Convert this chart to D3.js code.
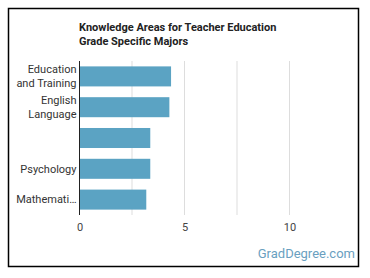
<!DOCTYPE html>
<html><head><meta charset="utf-8">
<script src="https://cdn.jsdelivr.net/npm/d3@7"></script>
<style>body{margin:0;background:#fff;}svg{display:block;font-family:Roboto,"Noto Sans",sans-serif;}</style>
</head><body><svg id="c" width="370" height="278"></svg>
<script>
const titleLines = ["Knowledge Areas for Teacher Education", "Grade Specific Majors"];
const categories = [["Education", "and Training"], ["English", "Language"], [""], ["Psychology"], ["Mathemati…"]];
const values = [4.36, 4.28, 3.37, 3.37, 3.18];
const tickValues = [0, 5, 10];
const gridValues = [0, 2.5, 5, 7.5, 10];

(function () {
const svg = d3.select("#c");
svg.append("rect").attr("x", 8.5).attr("y", 8.5).attr("width", 350).attr("height", 258)
  .attr("fill", "#fff").attr("stroke", "#000").attr("stroke-width", 1.5);

const pl = 79.5, pr = 331.5, pt = 61, pb = 215;
const x = d3.scaleLinear().domain([0, 12]).range([pl, pr]);
const y = d3.scaleBand().domain(d3.range(categories.length)).range([pt, pb]).paddingInner(0.35).paddingOuter(0.175);

svg.append("g").selectAll("line").data(gridValues.slice(1)).join("line")
  .attr("x1", d => x(d)).attr("x2", d => x(d)).attr("y1", pt).attr("y2", pb)
  .attr("stroke", "#ddd").attr("stroke-width", 1);

svg.append("g").selectAll("rect").data(values).join("rect")
  .attr("x", x(0)).attr("y", (d, i) => y(i)).attr("width", d => x(d) - x(0)).attr("height", y.bandwidth())
  .attr("fill", "#5ba3c3");

svg.append("line").attr("x1", pl).attr("x2", pl).attr("y1", pt).attr("y2", pb)
  .attr("stroke", "#222").attr("stroke-width", 1);

const xAxis = svg.append("g").attr("transform", `translate(0,${pb})`)
  .call(d3.axisBottom(x).tickValues(tickValues).tickSize(0).tickPadding(8));
xAxis.select(".domain").remove();
xAxis.selectAll("text").attr("font-size", 11).attr("fill", "#444").attr("font-family", "Roboto");

const yl = svg.append("g");
categories.forEach((lines, i) => {
  const cy = y(i) + y.bandwidth() / 2;
  const lh = 14;
  const t = yl.append("text").attr("text-anchor", "end").attr("font-size", 11).attr("fill", "#333");
  lines.forEach((l, j) => {
    t.append("tspan").attr("x", pl - 3).attr("y", cy + (j - (lines.length - 1) / 2) * lh).attr("dy", "0.35em").text(l);
  });
});

const tt = svg.append("text").attr("font-size", 11).attr("font-weight", "bold").attr("fill", "#222");
titleLines.forEach((l, j) => tt.append("tspan").attr("x", 79).attr("y", 27 + j * 14).attr("dy", "0.35em").text(l));

svg.append("text").attr("x", 355).attr("y", 258).attr("text-anchor", "end")
  .attr("font-size", 13).attr("fill", "#6a9fbf").text("GradDegree.com");
})();
</script></body></html>
